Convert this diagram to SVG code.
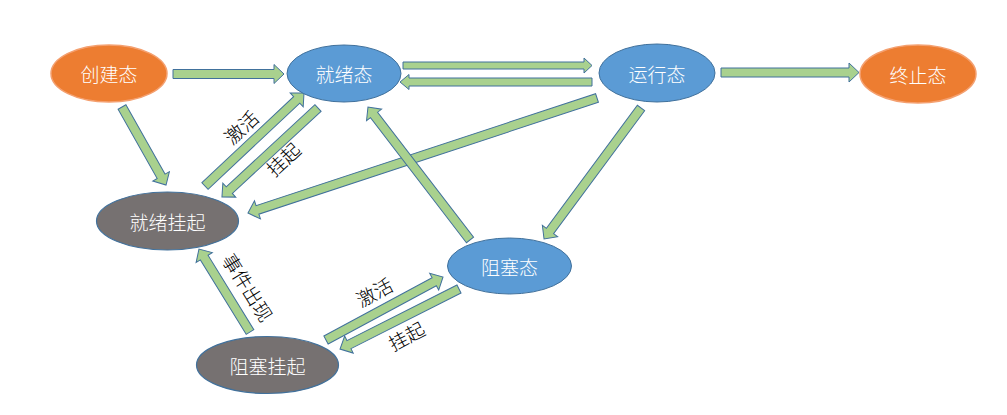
<svg xmlns="http://www.w3.org/2000/svg" width="1007" height="415" viewBox="0 0 1007 415">
<style>
.orange{fill:#ED7D31;stroke:#F4A070;stroke-width:1.5}
.blue{fill:#5B9BD5;stroke:#41719C;stroke-width:1}
.gray{fill:#767171;stroke:#41719C;stroke-width:1.2}
.nt{font-family:"Noto Sans CJK SC","Noto Sans",sans-serif;font-size:19px;font-weight:300;fill:#ffffff;text-anchor:middle;dominant-baseline:central}
.arr{fill:#A9D18E;stroke:#41719C;stroke-width:1;stroke-linejoin:miter}
.lb{font-family:"Liberation Serif","Noto Sans CJK SC",serif;font-size:19px;font-weight:300;fill:#000000;text-anchor:middle;dominant-baseline:central}
</style>
<rect width="1007" height="415" fill="#ffffff"/>
<g id="connectors">
<polygon class="arr" transform="translate(173,74)" points="0,-4.5 101,-4.5 101,-9.5 111,0 101,9.5 101,4.5 0,4.5"/>
<polygon class="arr" transform="translate(403,65.5)" points="0,-3.5 181,-3.5 181,-7.5 189,0 181,7.5 181,3.5 0,3.5"/>
<polygon class="arr" transform="translate(592,82) rotate(180)" points="0,-4 183,-4 183,-7.5 192,0 183,7.5 183,4 0,4"/>
<polygon class="arr" transform="translate(721,72.5)" points="0,-4.5 128,-4.5 128,-9.5 138,0 128,9.5 128,4.5 0,4.5"/>
<polygon class="arr" transform="translate(122,107) rotate(60.57)" points="0,-4.5 79.6,-4.5 79.6,-9.5 89.6,0 79.6,9.5 79.6,4.5 0,4.5"/>
<polygon class="arr" transform="translate(205,186) rotate(-43.2)" points="0,-4.5 125.8,-4.5 125.8,-9.5 135.8,0 125.8,9.5 125.8,4.5 0,4.5"/>
<polygon class="arr" transform="translate(318,108) rotate(137.2)" points="0,-4.5 120.9,-4.5 120.9,-9.5 130.9,0 120.9,9.5 120.9,4.5 0,4.5"/>
<polygon class="arr" transform="translate(597,98) rotate(161.76)" points="0,-4.5 357.5,-4.5 357.5,-9.5 367.5,0 357.5,9.5 357.5,4.5 0,4.5"/>
<polygon class="arr" transform="translate(641,108) rotate(126.5)" points="0,-4.5 153,-4.5 153,-9.5 163,0 153,9.5 153,4.5 0,4.5"/>
<polygon class="arr" transform="translate(470,240) rotate(-127.5)" points="0,-4.5 157.6,-4.5 157.6,-9.5 167.6,0 157.6,9.5 157.6,4.5 0,4.5"/>
<polygon class="arr" transform="translate(250,332) rotate(-121.6)" points="0,-4.5 87.4,-4.5 87.4,-9.5 97.4,0 87.4,9.5 87.4,4.5 0,4.5"/>
<polygon class="arr" transform="translate(326,340) rotate(-28.3)" points="0,-4.5 122.9,-4.5 122.9,-9.5 132.9,0 122.9,9.5 122.9,4.5 0,4.5"/>
<polygon class="arr" transform="translate(459,289) rotate(153.2)" points="0,-4.5 123.3,-4.5 123.3,-9.5 133.3,0 123.3,9.5 123.3,4.5 0,4.5"/>
<text class="lb" transform="translate(242,128) rotate(-43)">激活</text>
<text class="lb" transform="translate(284,160) rotate(-43)">挂起</text>
<text class="lb" transform="translate(247,288) rotate(58)">事件出现</text>
<text class="lb" transform="translate(375,293) rotate(-28)">激活</text>
<text class="lb" transform="translate(407,337) rotate(-28)">挂起</text>
</g>
<g id="create"><ellipse class="orange" cx="109" cy="73.5" rx="58" ry="28.5"/><text class="nt" x="109" y="73.5">创建态</text></g>
<g id="ready"><ellipse class="blue" cx="344" cy="73.5" rx="57" ry="28.5"/><text class="nt" x="344" y="73.5">就绪态</text></g>
<g id="running"><ellipse class="blue" cx="657" cy="73" rx="58" ry="29"/><text class="nt" x="657" y="73">运行态</text></g>
<g id="terminated"><ellipse class="orange" cx="918" cy="74" rx="58" ry="29"/><text class="nt" x="918" y="74">终止态</text></g>
<g id="ready-suspend"><ellipse class="gray" cx="167.5" cy="221" rx="71" ry="29"/><text class="nt" x="167.5" y="221">就绪挂起</text></g>
<g id="blocked"><ellipse class="blue" cx="509.5" cy="266" rx="62" ry="28"/><text class="nt" x="509.5" y="266">阻塞态</text></g>
<g id="blocked-suspend"><ellipse class="gray" cx="267.5" cy="365" rx="71" ry="28.5"/><text class="nt" x="267.5" y="365">阻塞挂起</text></g>
</svg>
